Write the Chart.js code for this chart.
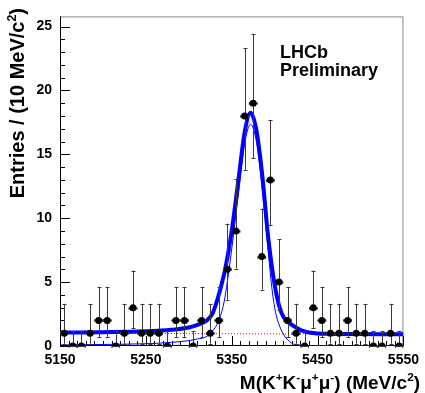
<!DOCTYPE html>
<html><head><meta charset="utf-8">
<script src="https://cdn.jsdelivr.net/npm/chart.js@4.4.1/dist/chart.umd.min.js"></script>
<style>html,body{margin:0;padding:0;background:#fff;}#wrap{width:425px;height:393px;position:relative;}</style>
</head><body><div id="wrap"><canvas id="c" width="425" height="393"></canvas></div>
<script>
// ---- data ----
const binCenters = [5155,5165,5175,5185,5195,5205,5215,5225,5235,5245,5255,5265,5275,5285,5295,5305,5315,5325,5335,5345,
                    5355,5365,5375,5385,5395,5405,5415,5425,5435,5445,5455,5465,5475,5485,5495,5505,5515,5525,5535,5545];
const counts     = [1,0,0,1,2,2,0,1,3,1,1,1,0,2,2,0,2,1,2,6,
                    9,18,19,7,13,5,2,1,0,3,2,1,1,2,1,1,0,0,1,0];
const binHalfWidth = 5;
// asymmetric Poisson error sizes by count (lower, upper)
const errLowByCount  = {0:0, 1:0.827, 2:1.288, 3:1.628, 5:2.154, 6:2.375, 7:2.58, 9:2.939, 13:3.554, 18:4.2, 19:4.32};
const errHighByCount = {0:1.15, 1:2.3, 2:2.627, 3:2.909, 5:3.375, 6:3.576, 7:3.76, 9:4.1, 13:4.69, 18:5.32, 19:5.43};

const totalFitX = [5150,5200,5250,5280,5300,5310,5321,5328,5334,5342,5350,5358,5365,5372,5379,5386,5392,5396,5400,5405,5410,5418,5425,5432,5442,5460,5500,5550];
const totalFitY = [1.05,1.08,1.15,1.27,1.45,1.65,2.0,2.6,3.8,5.9,9.0,13.1,16.7,18.25,16.8,13.1,8.8,6.6,4.8,3.2,2.3,1.75,1.45,1.2,1.03,0.95,0.93,0.92];
const signalX = [5150,5200,5250,5280,5300,5310,5321,5328,5334,5340,5344,5350,5358,5365,5372,5379,5386,5392,5396,5400,5404,5411,5420,5428,5440,5550];
const signalY = [0.08,0.12,0.18,0.28,0.42,0.55,0.75,1.2,1.85,3.1,4.6,7.6,12.0,15.8,17.35,15.9,12.0,7.8,5.0,3.0,1.9,0.84,0.22,0.08,0.02,0.01];
const bkgX = [5150,5550];
const bkgY = [1.0,0.92];

const xTickLabels = [5150,5250,5350,5450,5550];
const yTickLabels = [0,5,10,15,20,25];
const xMin = 5150, xMax = 5550, yMin = 0, yMax = 25.8;

const FONT = "'Liberation Sans', Arial, Helvetica, sans-serif";
const zip = (xs, ys) => xs.map((x,i)=>({x:x, y:ys[i]}));

function drawRich(ctx, parts, size, x, y, align) {
  const sup = size*0.62;
  let w = 0;
  const widths = parts.map(p => { ctx.font = 'bold ' + (p[1]?sup:size) + 'px ' + FONT; const m = ctx.measureText(p[0]).width; w += m; return m; });
  let cx = align === 'right' ? x - w : x;
  parts.forEach((p,i) => {
    ctx.font = 'bold ' + (p[1]?sup:size) + 'px ' + FONT;
    ctx.fillText(p[0], cx, p[1] ? y - size*0.42 : y);
    cx += widths[i];
  });
}

const hep = {
  id: 'hep',
  beforeDatasetsDraw(chart) {
    const ctx = chart.ctx, a = chart.chartArea, xs = chart.scales.x, ys = chart.scales.y;
    ctx.save();
    ctx.lineWidth = 1;
    ctx.strokeStyle = '#888';
    ctx.beginPath();
    ctx.moveTo(a.left+0.5, a.top+0.5); ctx.lineTo(a.right-0.5, a.top+0.5); ctx.lineTo(a.right-0.5, a.bottom);
    ctx.stroke();
    ctx.strokeStyle = '#000';
    ctx.beginPath();
    ctx.moveTo(a.left+0.5, a.top); ctx.lineTo(a.left+0.5, a.bottom-0.5); ctx.lineTo(a.right, a.bottom-0.5);
    ctx.stroke();
    ctx.beginPath();
    for (let v = xMin; v <= xMax + 0.01; v += 10) {
      const px = Math.round(xs.getPixelForValue(v)) + 0.5;
      const major = ((v - xMin) % 100) === 0;
      const len = major ? 10 : 5;
      ctx.moveTo(px, a.bottom); ctx.lineTo(px, a.bottom - len);
    }
    for (let v = 0; v <= 25; v += 1) {
      const py = Math.round(ys.getPixelForValue(v)) + 0.5;
      const len = (v % 5 === 0) ? 10 : 5;
      ctx.moveTo(a.left, py); ctx.lineTo(a.left + len, py);
    }
    ctx.stroke();
    ctx.restore();
  },
  beforeDatasetDraw(chart, args) {
    if (args.index !== 0) return;
    const ctx = chart.ctx, xs = chart.scales.x, ys = chart.scales.y;
    ctx.save();
    ctx.strokeStyle = '#3a3a3a';
    ctx.lineWidth = 1;
    ctx.beginPath();
    binCenters.forEach((m, i) => {
      const n = counts[i];
      const px = Math.round(xs.getPixelForValue(m)) + 0.5;
      const py = ys.getPixelForValue(n);
      const yl = ys.getPixelForValue(n - errLowByCount[n]);
      const yh = ys.getPixelForValue(n + errHighByCount[n]);
      ctx.moveTo(px, yl); ctx.lineTo(px, yh);
      ctx.moveTo(px - 2, Math.round(yh)+0.5); ctx.lineTo(px + 2, Math.round(yh)+0.5);
      if (n > 0) { ctx.moveTo(px - 2, Math.round(yl)+0.5); ctx.lineTo(px + 2, Math.round(yl)+0.5); }
      const xl = xs.getPixelForValue(m - binHalfWidth), xh = xs.getPixelForValue(m + binHalfWidth);
      const pyr = Math.round(py) + 0.5;
      ctx.moveTo(xl, pyr); ctx.lineTo(xh, pyr);
      ctx.moveTo(xl+0.5, pyr-1.5); ctx.lineTo(xl+0.5, pyr+1.5);
      ctx.moveTo(xh-0.5, pyr-1.5); ctx.lineTo(xh-0.5, pyr+1.5);
    });
    ctx.stroke();
    ctx.restore();
  },
  afterDraw(chart) {
    const ctx = chart.ctx;
    ctx.save();
    ctx.fillStyle = '#000';
    ctx.textBaseline = 'alphabetic';
    drawRich(ctx, [['M(K',0],['+',1],['K',0],['-',1],['\u03bc',0],['+',1],['\u03bc',0],['-',1],[') (MeV/c',0],['2',1],[')',0]], 19, 420, 389, 'right');
    ctx.translate(24, 8);
    ctx.rotate(-Math.PI/2);
    drawRich(ctx, [['Entries / (10 MeV/c',0],['2',1],[')',0]], 20, 0, 0, 'right');
    ctx.restore();
    ctx.save();
    ctx.fillStyle = '#000';
    ctx.font = 'bold 18px ' + FONT;
    ctx.fillText('LHCb', 280, 58);
    ctx.fillText('Preliminary', 280, 76);
    ctx.restore();
  }
};

new Chart(document.getElementById('c'), {
  type: 'scatter',
  data: {
    datasets: [
      { label: 'data', data: zip(binCenters, counts), order: 0, showLine: false,
        pointRadius: 3.5, pointBackgroundColor: '#000', pointBorderWidth: 0, pointBorderColor: '#000' },
      { label: 'total', type: 'line', data: zip(totalFitX, totalFitY), order: 1, borderColor: '#0000ff',
        borderWidth: 4, pointRadius: 0, cubicInterpolationMode: 'monotone', fill: false },
      { label: 'signal', type: 'line', data: zip(signalX, signalY), order: 2, borderColor: '#0000ff',
        borderWidth: 1, pointRadius: 0, cubicInterpolationMode: 'monotone', fill: false },
      { label: 'background', type: 'line', data: zip(bkgX, bkgY), order: 3, borderColor: '#ff0000',
        borderWidth: 1, borderDash: [1,2], pointRadius: 0, fill: false }
    ]
  },
  options: {
    responsive: false, animation: false, devicePixelRatio: 1, events: [],
    layout: { padding: { left: 0, right: 17, top: 6, bottom: 0 } },
    plugins: { legend: { display: false }, tooltip: { enabled: false } },
    scales: {
      x: { type: 'linear', min: xMin, max: xMax,
        grid: { display: false, drawTicks: false }, border: { display: false },
        afterBuildTicks: s => { s.ticks = xTickLabels.map(v => ({ value: v })); },
        afterFit: s => { s.height = 47; },
        ticks: { padding: 6, maxRotation: 0, autoSkip: false, color: '#000',
          font: { family: FONT, weight: 'bold', size: 14 }, callback: v => String(v) } },
      y: { type: 'linear', min: yMin, max: yMax,
        grid: { display: false, drawTicks: false }, border: { display: false },
        afterBuildTicks: s => { s.ticks = yTickLabels.map(v => ({ value: v })); },
        afterFit: s => { s.width = 60; },
        ticks: { padding: 8, color: '#000',
          font: { family: FONT, weight: 'bold', size: 14 }, callback: v => String(v) } }
    }
  },
  plugins: [hep]
});
</script></body></html>
